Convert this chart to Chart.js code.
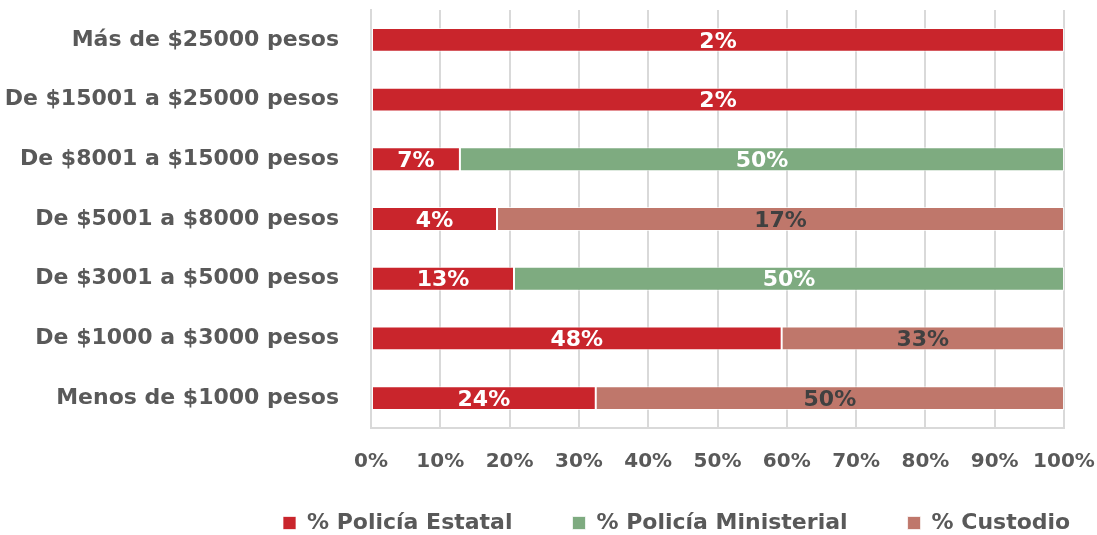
<!DOCTYPE html>
<html>
<head>
<meta charset="utf-8">
<script src="https://cdn.jsdelivr.net/npm/chart.js@4"></script>
<style>
	html, body { margin: 0; padding: 0; background: #fff; }
	#wrap { width: 1097px; height: 535px; }
</style>
</head>
<body>
<div id="wrap"><canvas id="myChart" width="1097" height="535"></canvas></div>
<script>
const categories = [
	"Más de $25000 pesos",
	"De $15001 a $25000 pesos",
	"De $8001 a $15000 pesos",
	"De $5001 a $8000 pesos",
	"De $3001 a $5000 pesos",
	"De $1000 a $3000 pesos",
	"Menos de $1000 pesos"
]
const seriesNames = ["% Policía Estatal", "% Policía Ministerial", "% Custodio"]
const estatal = [2, 2, 7.3, 3.8, 13, 48, 24]
const ministerial = [null, null, 49.6, null, 50, null, null]
const custodio = [null, null, null, 17.1, null, 33, 50]
const xTicks = ["0%", "10%", "20%", "30%", "40%", "50%", "60%", "70%", "80%", "90%", "100%"]

const FONT = "'DejaVu Sans', sans-serif"
const GREY = "#595959"

// cada fila suma 100%
const totals = categories.map((c, i) => (estatal[i] || 0) + (ministerial[i] || 0) + (custodio[i] || 0))
const share = arr => arr.map((v, i) => v == null ? null : v / totals[i] * 100)

const raw = [estatal, ministerial, custodio]

const labelPlugin = {
	id: "barLabels",
	afterDatasetsDraw(chart) {
		const ctx = chart.ctx
		ctx.save()
		ctx.font = "bold 22px " + FONT
		ctx.textAlign = "center"
		ctx.textBaseline = "middle"
		chart.data.datasets.forEach((ds, di) => {
			const meta = chart.getDatasetMeta(di)
			meta.data.forEach((bar, i) => {
				const v = raw[di][i]
				if (v == null) return
				ctx.fillStyle = di === 2 ? "#404040" : "#ffffff"
				ctx.fillText(Math.round(v) + "%", (bar.x + bar.base) / 2, bar.y + 2)
			})
		})
		ctx.restore()
	}
}

// la leyenda va mas abajo y corrida a la derecha
const legendShift = {
	id: "legendShift",
	beforeLayout(chart) {
		const lg = chart.legend
		if (!lg || lg._patched) return
		const fit = lg.fit.bind(lg)
		lg.fit = function () {
			fit()
			this.height = 63
		}
		lg._patched = true
	},
	afterLayout(chart) {
		const lg = chart.legend
		lg.left = 223
		lg.right = 2000
		lg.top = 452
	}
}

new Chart("myChart", {
	type: "bar",
	data: {
		labels: categories,
		datasets: [
			{ label: seriesNames[0], data: share(estatal), backgroundColor: "#C9252C" },
			{ label: seriesNames[1], data: share(ministerial), backgroundColor: "#7EAB80" },
			{ label: seriesNames[2], data: share(custodio), backgroundColor: "#BF776B" }
		].map(d => Object.assign(d, {
			borderColor: "rgba(255,255,255,0.7)",
			borderWidth: 1,
			borderSkipped: false,
			barPercentage: 0.4,
			categoryPercentage: 1
		}))
	},
	options: {
		indexAxis: "y",
		responsive: false,
		animation: false,
		devicePixelRatio: 1,
		layout: { padding: { top: 10, right: 33, left: 0, bottom: 0 } },
		plugins: {
			legend: {
				position: "bottom",
				align: "start",
				labels: {
					boxWidth: 13,
					boxHeight: 13,
					padding: 60,
					color: GREY,
					font: { family: FONT, size: 22, weight: "bold" }
				}
			},
			tooltip: { enabled: false }
		},
		scales: {
			x: {
				stacked: true,
				min: 0,
				max: 100,
				grid: { color: "#D9D9D9", lineWidth: 2, drawTicks: false },
				border: { color: "#D9D9D9", width: 2 },
				ticks: {
					stepSize: 10,
					padding: 22,
					color: GREY,
					font: { family: FONT, size: 20, weight: "bold" },
					callback: (v, i) => xTicks[i]
				},
				afterFit: s => {
					s.height = 44
					s.paddingLeft = 0
					s.paddingRight = 0
				}
			},
			y: {
				stacked: true,
				grid: { display: false },
				border: { color: "#D9D9D9", width: 2 },
				ticks: {
					padding: 24,
					color: GREY,
					font: { family: FONT, size: 22, weight: "bold" }
				},
				afterFit: s => {
					s.width = 371
					s.paddingTop = 0
					s.paddingBottom = 0
				}
			}
		}
	},
	plugins: [labelPlugin, legendShift]
})
</script>
</body>
</html>
